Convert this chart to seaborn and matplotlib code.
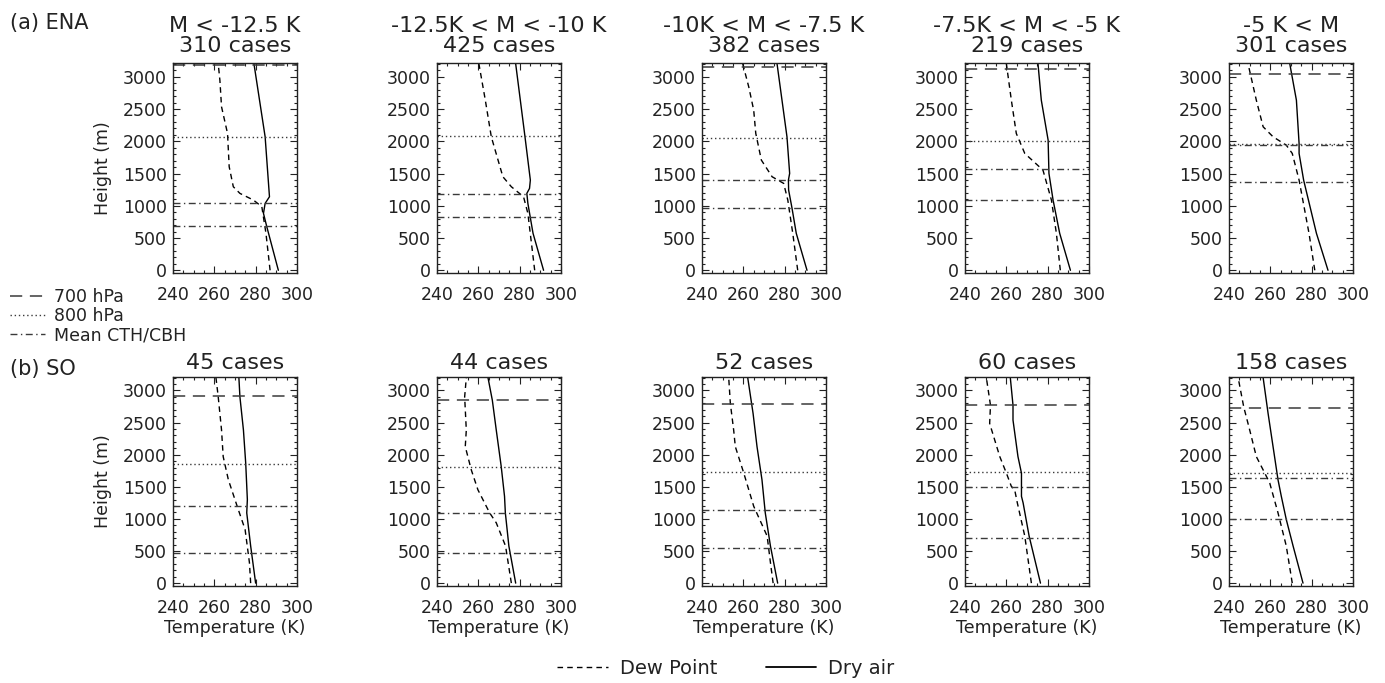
import numpy as np
import pandas as pd
import matplotlib
matplotlib.use("Agg")
import matplotlib.pyplot as plt
from matplotlib.lines import Line2D
from matplotlib.ticker import MultipleLocator
import seaborn as sns

# --- Valeurs ---
ena_titles = ["M < -12.5 K", "-12.5K < M < -10 K", "-10K < M < -7.5 K",
              "-7.5K < M < -5 K", "-5 K < M"]
ena_cases = [310, 425, 382, 219, 301]
so_cases = [45, 44, 52, 60, 158]

# ENA : profils (hauteur en m, température en K)
ena_dry_h = [[0, 676, 882, 1037, 1140, 2069, 3200],
             [0, 573, 1037, 1192, 1269, 1398, 2121, 3200],
             [0, 573, 970, 1244, 1398, 1502, 2069, 3200],
             [0, 573, 1089, 1502, 2018, 2637, 3200],
             [0, 573, 1398, 1811, 1966, 2637, 3200]]
ena_dry_t = [[291, 285.4, 283.8, 284.6, 286.7, 284.6, 279.2],
             [291.6, 286.5, 284, 283.5, 284.8, 285.2, 282.4, 278.1],
             [290.8, 285.6, 283.5, 281.9, 281.8, 282.4, 281.1, 276.3],
             [291, 285.8, 282.6, 280.6, 280.2, 276.9, 275.3],
             [287.9, 282.3, 276.1, 273.9, 273.9, 272.6, 269.4]]
ena_dew_h = [[0, 573, 986, 1089, 1192, 1295, 1605, 2121, 2534, 2946, 3200],
             [0, 882, 1140, 1295, 1450, 2069, 2637, 3200],
             [0, 573, 1089, 1347, 1450, 1708, 2121, 2482, 2843, 3200],
             [0, 573, 1089, 1553, 1811, 2121, 2637, 3200],
             [0, 573, 1398, 1811, 1940, 2069, 2224, 2637, 3200]]
ena_dew_t = [[287, 285, 283, 278.9, 272.4, 269.2, 267.2, 266.4, 263.5, 262.7, 261.9],
             [287.3, 284, 281.9, 276, 271.9, 266.3, 263.4, 260.3],
             [286.3, 283.9, 281.5, 279.5, 273.9, 268.7, 266, 265, 262.6, 259.7],
             [286.1, 284.2, 281.8, 277.7, 268.9, 264.8, 262.4, 260],
             [281.5, 278.7, 273.9, 270.6, 267.7, 261.3, 256.5, 253.2, 249.2]]
ena_p700 = [3185, 3300, 3153, 3117, 3039]
ena_p800 = [2069, 2079, 2054, 2007, 1950]
ena_cth = [1037, 1182, 1398, 1563, 1940]
ena_cbh = [686, 820, 970, 1084, 1373]

# SO
so_dry_h = [[0, 578, 1094, 1300, 1868, 2384, 2900, 3200],
            [0, 578, 1094, 1352, 1816, 2384, 2848, 3200],
            [0, 578, 1094, 1610, 2126, 2642, 3200],
            [0, 733, 1249, 1352, 1713, 1971, 2539, 2771, 3200],
            [0, 578, 991, 1352, 1610, 2126, 2642, 3200]]
so_dry_t = [[280, 277.6, 275.7, 276, 275.2, 274.1, 272.4, 271.9],
            [278.1, 274.8, 273.1, 272.7, 271.1, 268.7, 266.8, 264.7],
            [276.6, 273.1, 270.6, 269, 266.6, 264.7, 262.1],
            [276.5, 271, 268.1, 267.3, 267.3, 265.6, 263.2, 263.2, 261.9],
            [275.8, 271, 267.7, 265.3, 263.7, 261.3, 258.9, 256.5]]
so_dew_h = [[0, 320, 836, 1146, 1610, 1971, 2384, 2900, 3200],
            [0, 578, 939, 1094, 1455, 1765, 2126, 2384, 2900, 3200],
            [0, 320, 733, 1197, 1713, 2126, 2384, 2797, 3200],
            [0, 733, 1249, 1455, 1507, 1713, 1971, 2487, 2771, 3200],
            [0, 578, 1094, 1558, 1713, 1971, 2384, 2745, 3200]]
so_dew_t = [[277.6, 277, 274.9, 271.6, 266.8, 264.3, 263.5, 261.9, 260.8],
            [276, 273.2, 268.7, 265.5, 259.8, 256.6, 253.7, 254.2, 253.4, 254.2],
            [274.4, 273.1, 271.5, 265, 260.2, 256.1, 255.3, 253.7, 252.9],
            [272.1, 268.9, 265.3, 264, 262.4, 260, 256.8, 251.9, 252.3, 250.3],
            [270.6, 267.7, 263.7, 259.7, 257.3, 253.2, 250, 247.1, 244.4]]
so_p700 = [2915, 2859, 2786, 2771, 2735]
so_p800 = [1858, 1816, 1723, 1723, 1713]
so_cth = [1197, 1094, 1135, 1496, 1636]
so_cbh = [475, 475, 542, 707, 1001]

# --- Style ---
sns.set_style("ticks", {"xtick.direction": "in", "ytick.direction": "in"})
plt.rcParams["font.family"] = ["DejaVu Sans"]

LS_DEW = (0, (4, 3))
LS_700 = (0, (8, 5))
LS_800 = (0, (1, 2))
LS_CTH = (0, (5, 2.5, 1, 2.5))
LINE_COL = "#3a3a3a"

fig = plt.figure(figsize=(13.85, 6.83), dpi=100)

lefts = [0.1249, 0.3155, 0.5069, 0.6968, 0.8874]
w = 0.0895
rows = [
    dict(bottom=0.600, h=0.3075, dry_h=ena_dry_h, dry_t=ena_dry_t, dew_h=ena_dew_h,
         dew_t=ena_dew_t, p700=ena_p700, p800=ena_p800, cth=ena_cth, cbh=ena_cbh,
         titles=[f"{t}\n{c} cases" for t, c in zip(ena_titles, ena_cases)], pad=8),
    dict(bottom=0.142, h=0.306, dry_h=so_dry_h, dry_t=so_dry_t, dew_h=so_dew_h,
         dew_t=so_dew_t, p700=so_p700, p800=so_p800, cth=so_cth, cbh=so_cbh,
         titles=[f"{c} cases" for c in so_cases], pad=6),
]

for r, row in enumerate(rows):
    for i in range(5):
        ax = fig.add_axes([lefts[i], row["bottom"], w, row["h"]])
        df = pd.concat([
            pd.DataFrame({"T": row["dry_t"][i], "H": row["dry_h"][i], "kind": "Dry air"}),
            pd.DataFrame({"T": row["dew_t"][i], "H": row["dew_h"][i], "kind": "Dew Point"}),
        ], ignore_index=True)
        sns.lineplot(data=df, x="T", y="H", hue="kind", style="kind",
                     palette={"Dry air": "black", "Dew Point": "black"},
                     dashes={"Dry air": "", "Dew Point": (4, 3)},
                     sort=False, estimator=None, legend=False, lw=1.0, ax=ax)

        ax.axhline(row["p700"][i], color=LINE_COL, lw=1.1, ls=LS_700)
        ax.axhline(row["p800"][i], color=LINE_COL, lw=1.0, ls=LS_800)
        ax.axhline(row["cth"][i], color=LINE_COL, lw=1.0, ls=LS_CTH)
        ax.axhline(row["cbh"][i], color=LINE_COL, lw=1.0, ls=LS_CTH)

        ax.set_xlim(240, 300)
        ax.set_ylim(-45, 3210)
        ax.xaxis.set_major_locator(MultipleLocator(20))
        ax.xaxis.set_minor_locator(MultipleLocator(5))
        ax.yaxis.set_major_locator(MultipleLocator(500))
        ax.yaxis.set_minor_locator(MultipleLocator(100))
        ax.tick_params(which="both", direction="in", top=True, right=True,
                       colors="#222222", width=0.8)
        ax.tick_params(which="major", length=5, labelsize=12.5)
        ax.tick_params(which="minor", length=2.5)
        ax.tick_params(axis="x", pad=9)
        ax.tick_params(axis="y", pad=4.5)
        for s in ax.spines.values():
            s.set_linewidth(1.0)
            s.set_color("#222222")

        ax.set_title(row["titles"][i], fontsize=16, linespacing=1.0, pad=row["pad"],
                     color="#222222")
        if i == 0:
            ax.set_ylabel("Height (m)", fontsize=12.5, labelpad=8, color="#222222")
        else:
            ax.set_ylabel("")
        if r == 1:
            ax.set_xlabel("Temperature (K)", fontsize=12.5, labelpad=2, color="#222222")
        else:
            ax.set_xlabel("")

fig.text(0.007, 1 - 22.5 / 683, "(a) ENA", fontsize=15, va="center", ha="left", color="#222222")
fig.text(0.007, 1 - 369 / 683, "(b) SO", fontsize=15, va="center", ha="left", color="#222222")

# Légende des niveaux (en haut à gauche)
lev_handles = [Line2D([], [], color=LINE_COL, lw=1.1, ls=LS_700),
               Line2D([], [], color=LINE_COL, lw=1.0, ls=LS_800),
               Line2D([], [], color=LINE_COL, lw=1.0, ls=LS_CTH)]
fig.legend(lev_handles, ["700 hPa", "800 hPa", "Mean CTH/CBH"],
           loc="upper left", bbox_to_anchor=(0.0, 1 - 278 / 683), frameon=False,
           fontsize=12.5, handlelength=2.0, handletextpad=0.5, labelspacing=0.05,
           borderaxespad=0.2, labelcolor="#222222")

# Légende des profils (en bas)
prof_handles = [Line2D([], [], color="black", lw=1.0, ls=LS_DEW),
                Line2D([], [], color="black", lw=1.3, ls="-")]
fig.legend(prof_handles, ["Dew Point", "Dry air"], loc="center",
           bbox_to_anchor=(0.524, 1 - 668 / 683), ncol=2, frameon=False,
           fontsize=14, handlelength=2.6, handletextpad=0.6, columnspacing=2.5,
           labelcolor="#222222")

fig.savefig("out.png", dpi=100)
